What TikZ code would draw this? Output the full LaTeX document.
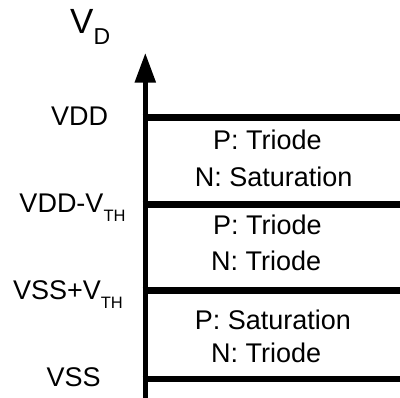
\documentclass[tikz,border=0pt]{standalone}
\usepackage{fontspec}
\setmainfont{Liberation Sans}
\usetikzlibrary{arrows.meta}
\newcommand{\mysub}[1]{\raisebox{-8.7pt}{\fontsize{16.5}{16.5}\selectfont #1}}
\tikzset{
  lbl/.style={anchor=base west, inner sep=0pt, font=\fontsize{27}{30}\selectfont},
  axisline/.style={line width=5.5pt, -{Triangle[length=30pt,width=20pt]}},
  level/.style={line width=6.5pt}
}
\begin{document}
\begin{tikzpicture}[x=1pt,y=-1pt]
\useasboundingbox (0,0) rectangle (400,398);
% axis
\coordinate (bot) at (145.3,398);
\coordinate (top) at (145.3,52.7);
\draw[axisline] (bot) -- (top);
% levels
\foreach \n/\y in {vdd/117.5, vddt/204.5, vsst/290.5, vss/379}{
  \coordinate (\n L) at (142.5,\y);
  \coordinate (\n R) at (400,\y);
  \draw[level] (\n L) -- (\n R);
}
% axis label
\node[anchor=base west, inner sep=0pt, font=\fontsize{35}{40}\selectfont] (vd) at (70,33.3)
  {V\raisebox{-11pt}{\fontsize{23}{23}\selectfont D}};
% level labels
\node[lbl] (t1) at (51,125.7) {VDD};
\node[lbl] (t2) at (19.3,213) {VDD-V\mysub{TH}};
\node[lbl] (t3) at (12.8,299.5) {VSS+V\mysub{TH}};
\node[lbl] (t4) at (46.5,387) {VSS};
% region labels
\node[lbl] (r1a) at (213,150) {P: Triode};
\node[lbl] (r1b) at (194.7,187) {N: Saturation};
\node[lbl] (r2a) at (213,235) {P: Triode};
\node[lbl] (r2b) at (211,271) {N: Triode};
\node[lbl] (r3a) at (194.7,330) {P: Saturation};
\node[lbl] (r3b) at (211,363) {N: Triode};
\end{tikzpicture}
\end{document}
